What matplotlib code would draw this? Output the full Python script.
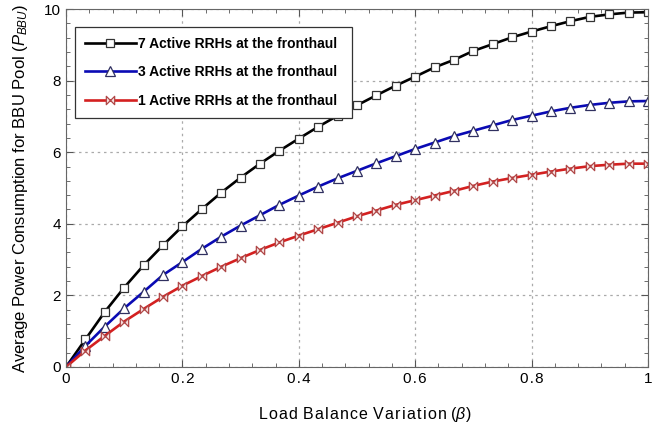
import numpy as np
import matplotlib
matplotlib.use('Agg')
from matplotlib import pyplot as plt
from matplotlib.path import Path
from matplotlib.ticker import MultipleLocator, FuncFormatter

# load balance variation, 31 points (step 1/30)
beta = [i / 30 for i in range(31)]

p_7rrh = [0.0, 0.77, 1.54, 2.22, 2.84, 3.40, 3.93, 4.41, 4.87, 5.29, 5.68,
          6.04, 6.38, 6.71, 7.02, 7.31, 7.59, 7.86, 8.11, 8.37, 8.58,
          8.83, 9.02, 9.21, 9.37, 9.52, 9.66, 9.78, 9.85, 9.90, 9.91]
p_3rrh = [0.0, 0.59, 1.13, 1.64, 2.10, 2.57, 2.93, 3.30, 3.64, 3.95, 4.24,
          4.53, 4.79, 5.04, 5.27, 5.48, 5.69, 5.89, 6.09, 6.27, 6.45,
          6.60, 6.75, 6.90, 7.02, 7.14, 7.24, 7.32, 7.38, 7.42, 7.43]
p_1rrh = [0.0, 0.46, 0.87, 1.27, 1.62, 1.96, 2.27, 2.54, 2.80, 3.04, 3.27,
          3.48, 3.67, 3.85, 4.03, 4.21, 4.37, 4.53, 4.66, 4.79, 4.92,
          5.06, 5.18, 5.28, 5.37, 5.46, 5.54, 5.61, 5.65, 5.68, 5.68]

labels = ["7 Active RRHs at the fronthaul",
          "3 Active RRHs at the fronthaul",
          "1 Active RRHs at the fronthaul"]

plt.rcParams['font.family'] = ['Liberation Sans', 'DejaVu Sans']
plt.rcParams['mathtext.fontset'] = 'custom'
plt.rcParams['mathtext.it'] = 'Liberation Sans:italic'
plt.rcParams['mathtext.rm'] = 'Liberation Sans'


def spaced(s):
    # the original has loose letter spacing
    return " ".join("\u200a".join(w) for w in s.split(" "))


# bowtie marker like the matlab-ish figure
bowtie = Path([(-1, 1), (1, -1), (1, 1), (-1, -1), (-1, 1)],
              [Path.MOVETO, Path.LINETO, Path.LINETO, Path.LINETO, Path.CLOSEPOLY])

fig = plt.figure(figsize=(6.68, 4.23), dpi=100)
ax = fig.add_axes([0.0988, 0.1324, 0.8712, 0.8463])

ax.plot(beta, p_7rrh, color='black', lw=1.9, marker='s', ms=5.5,
        mfc='white', mec='#333333', mew=0.9, label=labels[0])
ax.plot(beta, p_3rrh, color='#0a0ab4', lw=1.9, marker='^', ms=6.5,
        mfc='white', mec='#303060', mew=0.9, label=labels[1])
ax.plot(beta, p_1rrh, color='#d42020', lw=1.9, marker=bowtie, ms=6,
        mfc='#f6dede', mec='#b04848', mew=0.9, label=labels[2])

ax.set_xlim(0, 1)
ax.set_ylim(0, 10)
ax.xaxis.set_major_locator(MultipleLocator(0.2))
ax.xaxis.set_minor_locator(MultipleLocator(0.04))
ax.yaxis.set_major_locator(MultipleLocator(2))
ax.yaxis.set_minor_locator(MultipleLocator(0.4))
ax.xaxis.set_major_formatter(FuncFormatter(lambda v, p: "\u200a".join(f"{v:g}")))
ax.tick_params(which='both', direction='in', top=True, right=True,
               colors='#555555', labelcolor='black', labelsize=11)
ax.tick_params(which='major', length=5)
ax.tick_params(which='minor', length=3)
for s in ax.spines.values():
    s.set_color('#666666')
ax.grid(True, which='major', color='#aaaaaa', ls=(0, (2, 3)), lw=0.9)

ax.set_xlabel(spaced("Load Balance Variation") + " " + r"($\beta$)",
              fontsize=11.5)
ax.xaxis.set_label_coords(0.513, -0.105)
ax.set_ylabel(r"Average Power Consumption for BBU Pool ($P_{BBU}$)",
              fontsize=12, labelpad=10)

leg = ax.legend([l + "\u2009\u2009" for l in labels], loc='upper left',
                bbox_to_anchor=(0.0155, 0.95), borderaxespad=0,
                handlelength=3.7, fancybox=False, framealpha=1,
                edgecolor='#333333', prop={'weight': 'bold', 'size': 10},
                borderpad=0.7, labelspacing=1.05, handletextpad=0.1)
leg.get_frame().set_linewidth(0.9)

fig.savefig('out.png', dpi=100)
